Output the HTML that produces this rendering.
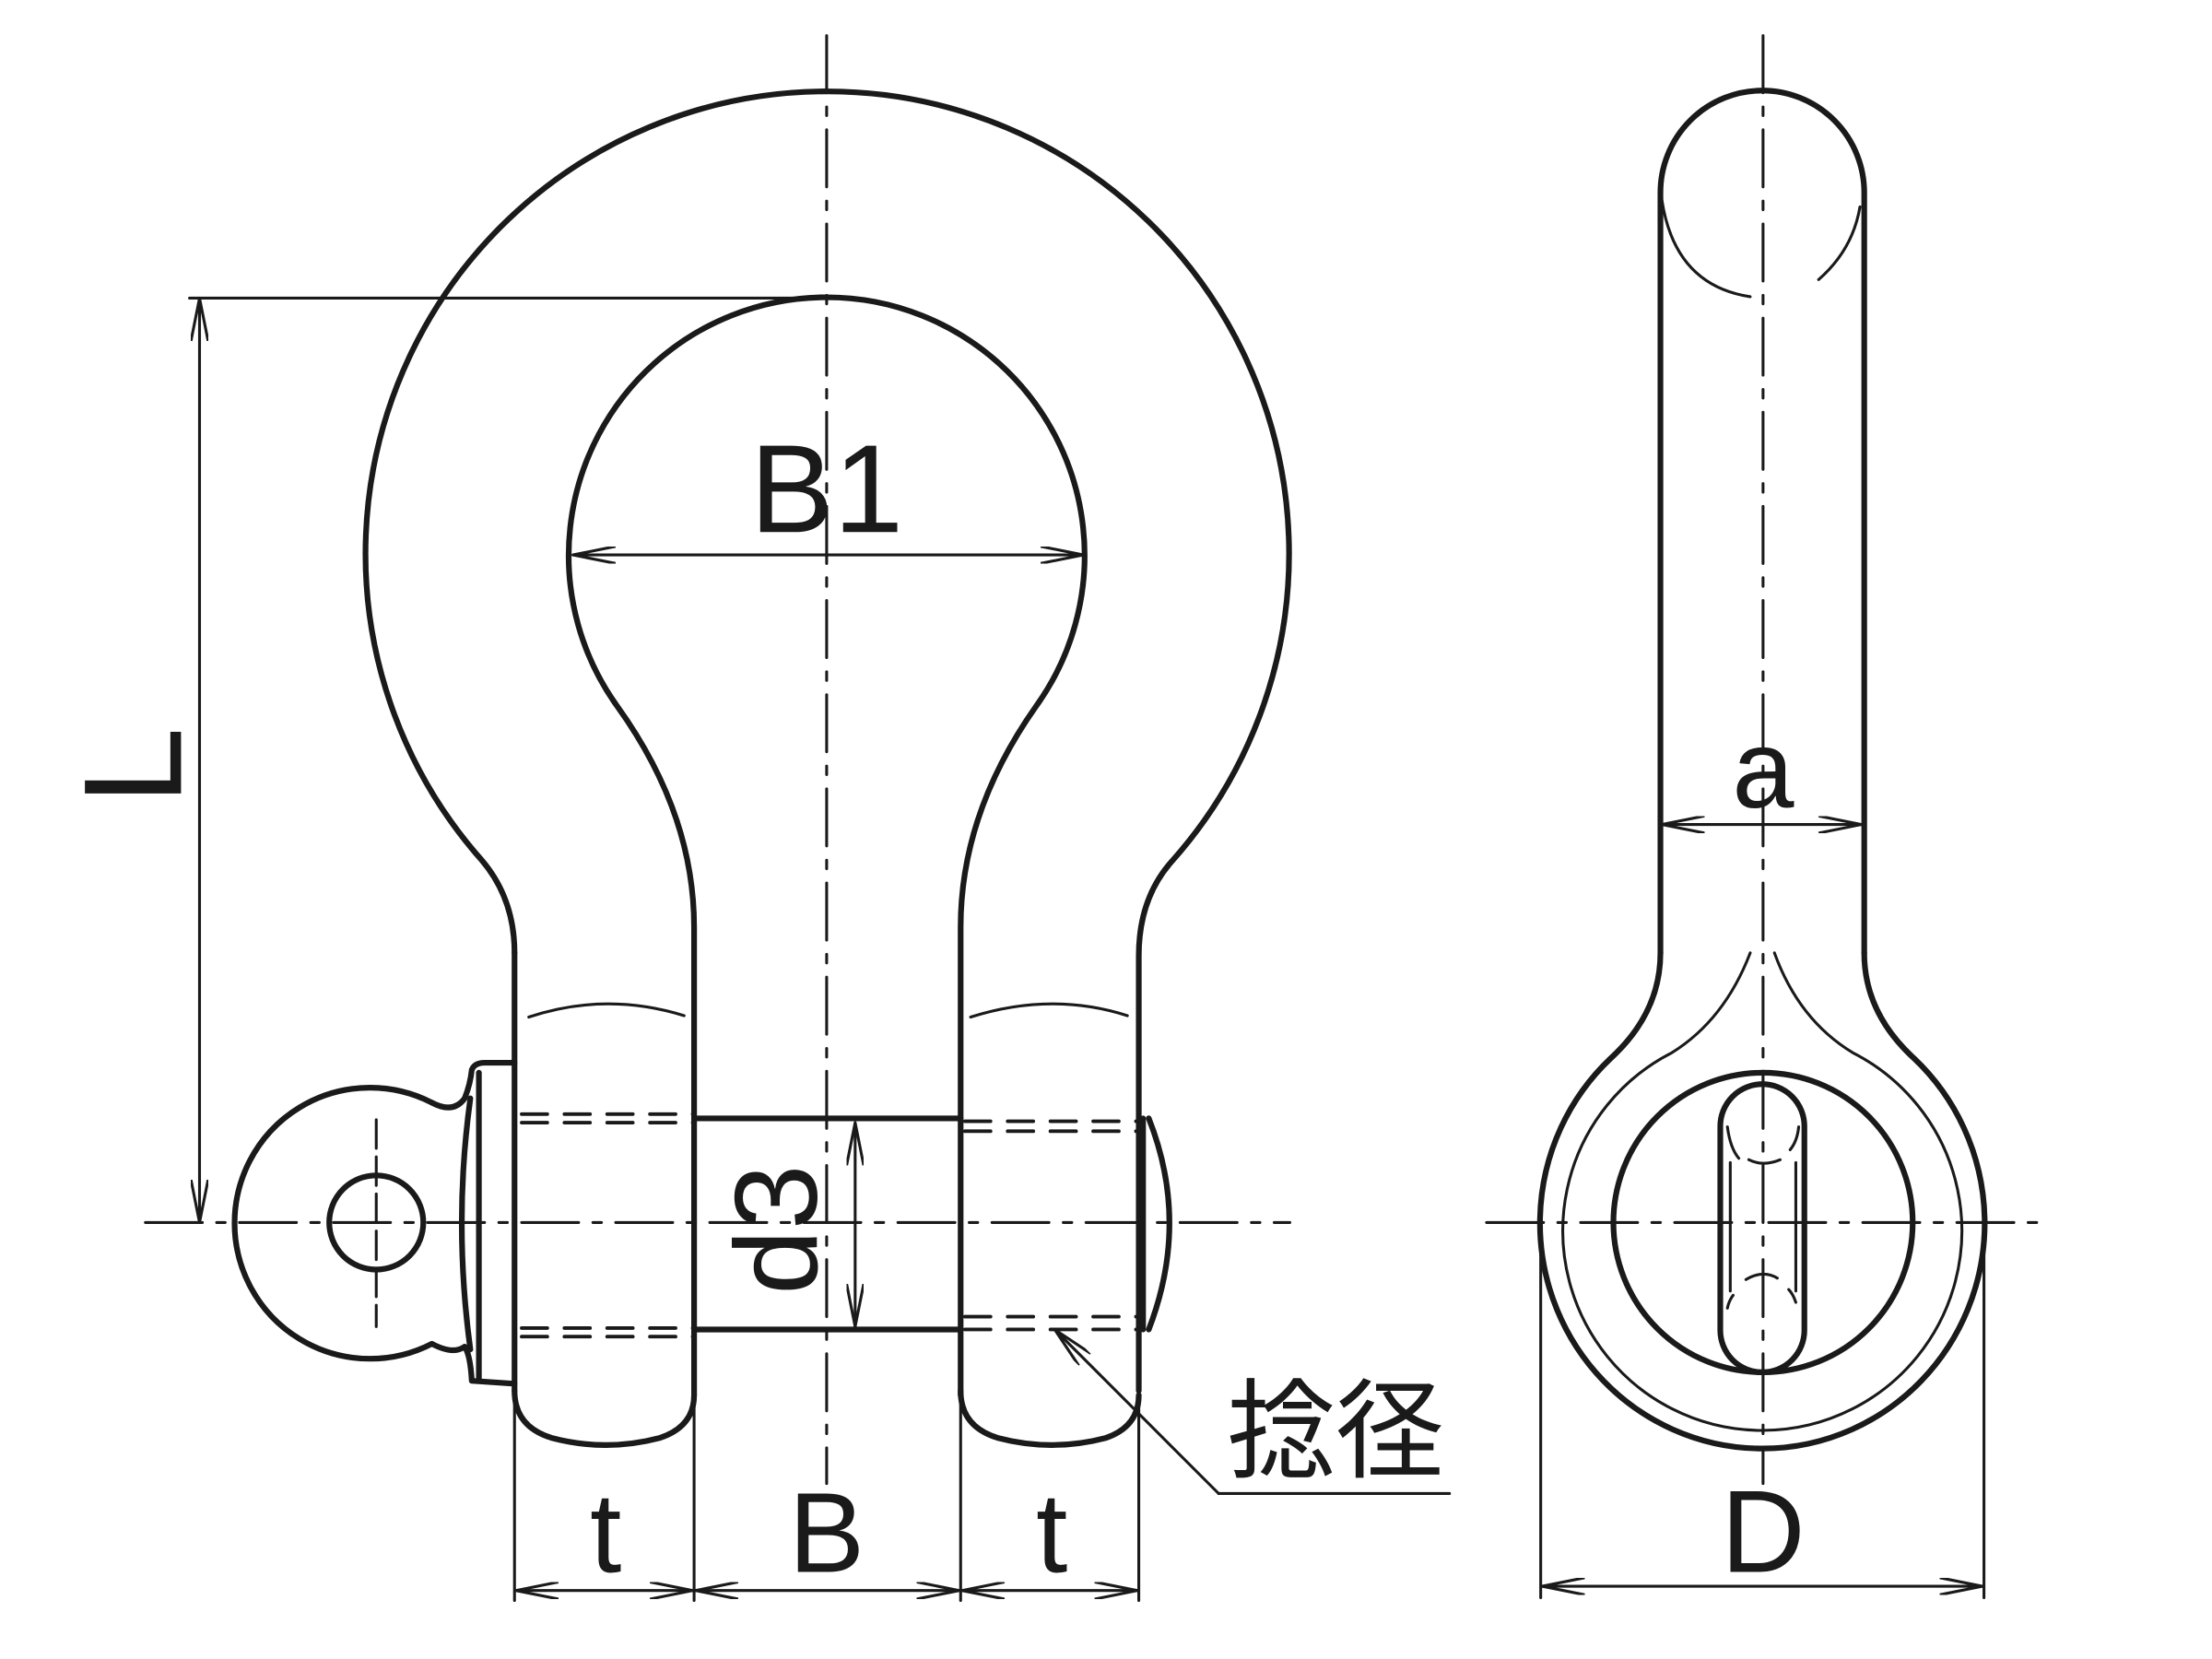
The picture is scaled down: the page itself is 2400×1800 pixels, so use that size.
<!DOCTYPE html>
<html><head><meta charset="utf-8"><style>
html,body{margin:0;padding:0;background:#fff;}
svg{display:block;}
text{font-family:"Liberation Sans","Noto Sans CJK JP",sans-serif;fill:#1a1a1a;}
</style></head><body>
<svg width="2400" height="1800" viewBox="0 0 1552 1163" preserveAspectRatio="none" xmlns="http://www.w3.org/2000/svg">
<defs>
<marker id="ar" viewBox="0 0 30 12" refX="30" refY="6" markerWidth="30" markerHeight="12" markerUnits="userSpaceOnUse" orient="auto-start-reverse">
<path d="M0,0 L30,6 L0,12" fill="none" stroke="#1a1a1a" stroke-width="2"/>
</marker>
</defs>
<g fill="none" stroke="#1a1a1a" stroke-linecap="round" stroke-linejoin="round">
<!-- center lines -->
<g stroke-width="2" stroke-dasharray="40,10,6,10">
<line x1="580" y1="25" x2="580" y2="1040"/>
<line x1="102" y1="857" x2="905" y2="857"/>
<line x1="1237" y1="25" x2="1237" y2="1040"/>
<line x1="1043" y1="857" x2="1435" y2="857"/>
</g>
<!-- bow -->
<g stroke-width="4">
<path d="M361,668 Q361,630 338,603 A324,324 0 1 1 822,604 Q799,630 799,670 L799,975"/>
<path d="M361,668 L361,975"/>
<path d="M487,978 L487,650 Q487,570 433,495 A181,181 0 1 1 727,495 Q674,570 674,650 L674,978"/>
<path d="M361,975 Q361,1000 387,1008 Q425,1018 463,1008 Q487,1000 487,978"/>
<path d="M674,975 Q674,1000 700,1008 Q738,1018 776,1008 Q799,1000 799,978"/>
</g>
<g stroke-width="2">
<path d="M371,713 Q425,695 480,712"/>
<path d="M681,713 Q738,695 791,712"/>
</g>
<!-- pin head / eye -->
<g stroke-width="4">
<path d="M303,773 A95,95 0 1 0 303,942 Q318,950 326,944 Q330,950 331,968 L361,970"/>
<path d="M303,773 Q318,781 326,770 Q330,760 331,750 Q333,745 340,745 L361,745"/>
<line x1="336" y1="752" x2="336" y2="966"/>
<path d="M330,770 Q318,857 330,946"/>
<circle cx="264" cy="857" r="33"/>
</g>
<g stroke-width="2" stroke-dasharray="20,6">
<line x1="264" y1="785" x2="264" y2="930"/>
</g>
<!-- pin -->
<g stroke-width="4">
<line x1="487" y1="784" x2="674" y2="784"/>
<line x1="487" y1="932" x2="674" y2="932"/>
<path d="M806,784 Q835,857 806,932"/>
<line x1="802" y1="784" x2="802" y2="932"/>
</g>
<g stroke-width="2.5" stroke-dasharray="18,12">
<line x1="366" y1="781" x2="487" y2="781"/>
<line x1="366" y1="787" x2="487" y2="787"/>
<line x1="366" y1="931" x2="487" y2="931"/>
<line x1="366" y1="937" x2="487" y2="937"/>
<line x1="677" y1="786" x2="802" y2="786"/>
<line x1="677" y1="793" x2="802" y2="793"/>
<line x1="677" y1="923" x2="802" y2="923"/>
<line x1="677" y1="932" x2="802" y2="932"/>
</g>
<!-- dimensions -->
<g stroke-width="2">
<line x1="600" y1="787" x2="600" y2="930" marker-start="url(#ar)" marker-end="url(#ar)"/>
<line x1="133" y1="209" x2="565" y2="209"/>
<line x1="140" y1="209" x2="140" y2="857" marker-start="url(#ar)" marker-end="url(#ar)"/>
<line x1="402" y1="389" x2="760" y2="389" marker-start="url(#ar)" marker-end="url(#ar)"/>
<line x1="361" y1="980" x2="361" y2="1122"/>
<line x1="487" y1="980" x2="487" y2="1122"/>
<line x1="674" y1="980" x2="674" y2="1122"/>
<line x1="799" y1="980" x2="799" y2="1122"/>
<line x1="362" y1="1115" x2="486" y2="1115" marker-start="url(#ar)" marker-end="url(#ar)"/>
<line x1="488" y1="1115" x2="673" y2="1115" marker-start="url(#ar)" marker-end="url(#ar)"/>
<line x1="675" y1="1115" x2="798" y2="1115" marker-start="url(#ar)" marker-end="url(#ar)"/>
<line x1="855" y1="1047" x2="740" y2="932" marker-end="url(#ar)"/>
<line x1="855" y1="1047" x2="1017" y2="1047"/>
</g>
<!-- side view -->
<g stroke-width="4">
<path d="M1165,668 L1165,135 A71,71 0 0 1 1308,135 L1308,668"/>
<path d="M1165,668 Q1165,710 1130,742 A156,158 0 1 0 1343,742 Q1308,710 1308,668"/>
<circle cx="1237" cy="857" r="105"/>
<rect x="1207" y="760" width="59" height="202" rx="29.5"/>
</g>
<g stroke-width="2">
<path d="M1166,140 Q1175,200 1228,208"/>
<path d="M1305,145 Q1300,175 1276,196"/>
<path d="M1228,668 Q1210,715 1173,738 A140,140 0 1 0 1300,738 Q1262,715 1245,668"/>
<line x1="1214" y1="815" x2="1214" y2="905"/>
<line x1="1260" y1="815" x2="1260" y2="905"/>
<path d="M1212,790 Q1214,805 1220,812"/>
<path d="M1262,790 Q1261,800 1256,806"/>
<path d="M1227,813 Q1237,818 1249,813"/>
<path d="M1225,897 Q1237,890 1247,896"/>
<path d="M1212,917 Q1213,912 1216,908"/>
<path d="M1260,913 Q1258,907 1255,904"/>
<line x1="1166" y1="578" x2="1306" y2="578" marker-start="url(#ar)" marker-end="url(#ar)"/>
<line x1="1081" y1="860" x2="1081" y2="1120"/>
<line x1="1392" y1="860" x2="1392" y2="1120"/>
<line x1="1082" y1="1112" x2="1391" y2="1112" marker-start="url(#ar)" marker-end="url(#ar)"/>
</g>
</g>
<!-- labels -->
<text x="580" y="373" font-size="88" text-anchor="middle">B1</text>
<text x="127" y="537" font-size="98" text-anchor="middle" transform="rotate(-90 127 537)" dy="0">L</text>
<text x="573" y="862" font-size="82" text-anchor="middle" transform="rotate(-90 573 862)">d3</text>
<text x="425" y="1102" font-size="80" text-anchor="middle">t</text>
<text x="580" y="1102" font-size="80" text-anchor="middle">B</text>
<text x="738" y="1102" font-size="80" text-anchor="middle">t</text>
<text x="1237" y="566" font-size="78" text-anchor="middle">a</text>
<text x="1237" y="1102" font-size="82" text-anchor="middle">D</text>
<text x="937" y="1030" font-size="76" text-anchor="middle">捻径</text>
</svg>
</body></html>
